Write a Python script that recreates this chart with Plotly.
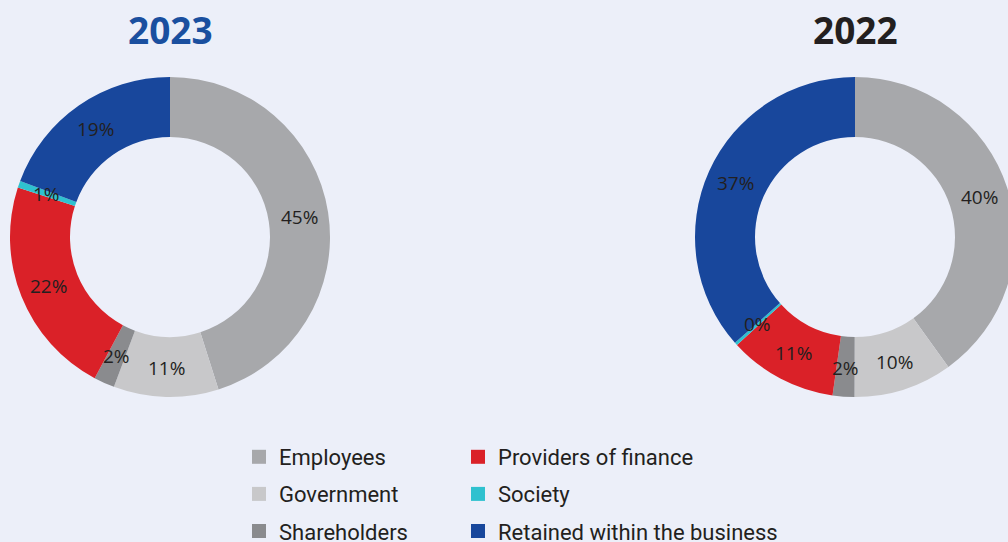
import math
import plotly.graph_objects as go

categories = ["Employees", "Government", "Shareholders", "Providers of finance", "Society", "Retained within the business"]
values_2023 = [45.1, 10.6, 2.1, 22.2, 0.7, 19.3]
values_2022 = [40.2, 10.0, 2.2, 11.0, 0.3, 36.6]
years = ["2023", "2022"]
colors = ["#a7a8ab", "#c8c8ca", "#8a8b8e", "#da2128", "#2fc1cf", "#18479c"]
title_colors = ["#1a4f9f", "#231f20"]

# page viewport is 1008x542; the figure is a little larger and is clipped at the
# right/bottom edges like the reference (2022 donut and last legend row are cut)
W, H = 1016, 570
BG = "#eceff9"
R_OUT, HOLE = 160, 0.625
R_LABEL = 131

fig = go.Figure()

def add_donut(vals, cx, cy, year, tcolor):
    fig.add_trace(go.Pie(
        labels=categories, values=vals, sort=False, direction="clockwise", rotation=0,
        hole=HOLE, marker=dict(colors=colors, line=dict(width=0)),
        textinfo="none",
        domain=dict(x=[(cx - R_OUT) / W, (cx + R_OUT) / W],
                    y=[(H - cy - R_OUT) / H, (H - cy + R_OUT) / H]),
        showlegend=False, hoverinfo="label+percent",
    ))
    total = sum(vals)
    cum = 0.0
    for v in vals:
        mid = (cum + v / 2) / total * 2 * math.pi
        cum += v
        x = cx + R_LABEL * math.sin(mid)
        y = cy - R_LABEL * math.cos(mid)
        fig.add_annotation(text=f"{math.floor(v + 0.5)}%", x=x / W, y=1 - y / H,
                           xref="paper", yref="paper", showarrow=False,
                           xanchor="center", yanchor="middle",
                           font=dict(size=19, color="#231f20", family="Open Sans"))
    fig.add_annotation(text=f"<b>{year}</b>", x=cx / W, y=1 - 30 / H, xref="paper", yref="paper",
                       showarrow=False, font=dict(size=37, color=tcolor, family="Open Sans"),
                       xanchor="center", yanchor="middle")

add_donut(values_2023, 170, 237, years[0], title_colors[0])
add_donut(values_2022, 855, 237, years[1], title_colors[1])

for i, (cat, col) in enumerate(zip(categories, colors)):
    fig.add_trace(go.Scatter(
        x=[None], y=[None], mode="markers", name=cat,
        marker=dict(symbol="square", size=14, color=col),
        legend="legend" if i < 3 else "legend2", legendgroup=cat,
    ))

leg = dict(orientation="v", font=dict(size=22, color="#231f20", family="Roboto"),
           bgcolor="rgba(0,0,0,0)", tracegroupgap=5.5, yanchor="top", y=1 - 436 / H)
fig.update_layout(
    width=W, height=H, paper_bgcolor=BG, plot_bgcolor=BG,
    margin=dict(l=0, r=0, t=0, b=0),
    xaxis=dict(visible=False), yaxis=dict(visible=False),
    legend=dict(leg, x=239 / W, xanchor="left"),
    legend2=dict(leg, x=458 / W, xanchor="left"),
)

fig.write_html("out.html", config={"displayModeBar": False},
               post_script="document.body.style.margin='0';document.body.style.overflow='hidden';")
